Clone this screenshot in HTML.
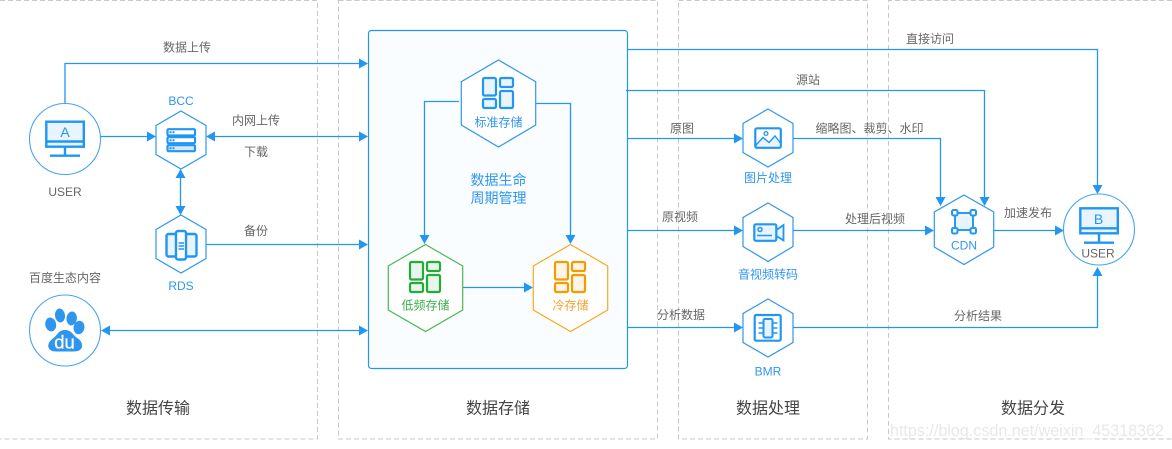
<!DOCTYPE html>
<html><head><meta charset="utf-8">
<style>
html,body{margin:0;padding:0;background:#fff;width:1172px;height:449px;overflow:hidden}
svg{display:block}
text{font-family:"Liberation Sans","Noto Sans CJK SC",sans-serif;text-anchor:middle}
.g{font-size:12px;fill:#666}
.b{font-size:12px;fill:#2f96f0}
.t{font-size:16px;fill:#444}
.d{fill:none;stroke:#c8c8c8;stroke-width:1;stroke-dasharray:5 3}
.l{fill:none;stroke:#2196f3;stroke-width:1.3}
.h{fill:#fff;stroke:#2f96f0;stroke-width:1.2}
.a{fill:#2196f3}
.i{fill:#e8f4ff;stroke:#2196f3;stroke-width:2}
</style></head><body>
<svg width="1172" height="449" viewBox="0 0 1172 449" xmlns="http://www.w3.org/2000/svg">
<rect width="1172" height="449" fill="#fff"/>
<path class="d" d="M0 .5H317.5V439H0"/>
<rect class="d" x="338.5" y=".5" width="319" height="438.5"/>
<rect class="d" x="678.5" y=".5" width="189" height="438.5"/>
<path class="d" d="M1172 .5H888.5V439H1172"/>

<rect x="368.5" y="30.5" width="259" height="338" rx="3" fill="#f9fdff" stroke="#2196f3" stroke-width="1.2"/>

<!-- connectors -->
<path class="l" d="M65 103V63.5H360"/><polygon class="a" points="368,63.5 359,58.5 359,68.5"/>
<path class="l" d="M100 136.500H148"/><polygon class="a" points="156,136.500 147,131.500 147,141.500"/>
<path class="l" d="M212 136.500H360"/><polygon class="a" points="206,136.500 215,131.500 215,141.500"/><polygon class="a" points="368,136.500 359,131.500 359,141.500"/>
<path class="l" d="M180.500 176V208"/><polygon class="a" points="180.500,169 175.500,178 185.500,178"/><polygon class="a" points="180.500,215 175.500,206 185.500,206"/>
<path class="l" d="M206 244.500H360"/><polygon class="a" points="368,244.500 359,239.500 359,249.500"/>
<path class="l" d="M106 330.500H360"/><polygon class="a" points="101,330.500 110,325.500 110,335.500"/><polygon class="a" points="368,330.500 359,325.500 359,335.500"/>

<path class="l" d="M459 101.500H424.500V236"/><polygon class="a" points="424.500,244 419.500,235 429.500,235"/>
<path class="l" d="M536 103.500H570.500V236"/><polygon class="a" points="570.500,244 565.500,235 575.500,235"/>
<path class="l" d="M463 287.500H525"/><polygon class="a" points="533,287.500 524,282.500 524,292.500"/>

<path class="l" d="M628 49.500H1097.500V186"/><polygon class="a" points="1097.500,194 1092.500,185 1102.500,185"/>
<path class="l" d="M626 90.500H984.500V198"/><polygon class="a" points="984.500,206 979.500,197 989.500,197"/>
<path class="l" d="M628 138.500H736"/><polygon class="a" points="743,138.500 734,133.500 734,143.500"/>
<path class="l" d="M793 138.500H940.500V198"/><polygon class="a" points="940.500,206 935.500,197 945.500,197"/>
<path class="l" d="M628 230.500H736"/><polygon class="a" points="743,230.500 734,225.500 734,235.500"/>
<path class="l" d="M793 230.500H926"/><polygon class="a" points="934,230.500 925,225.500 925,235.500"/>
<path class="l" d="M994 230.500H1056"/><polygon class="a" points="1064,230.500 1055,225.500 1055,235.500"/>
<path class="l" d="M628 327.500H736"/><polygon class="a" points="743,327.500 734,322.500 734,332.500"/>
<path class="l" d="M793 327.500H1097.500V275"/><polygon class="a" points="1097.500,267 1092.500,276 1102.500,276"/>

<!-- circles -->
<circle cx="65" cy="139" r="35.500" fill="#fff" stroke="#45a3f5" stroke-width="1.100"/>
<circle cx="65" cy="330.500" r="35.500" fill="#fff" stroke="#45a3f5" stroke-width="1.100"/>
<circle cx="1099" cy="229.500" r="35.500" fill="#fff" stroke="#45a3f5" stroke-width="1.100"/>

<!-- monitor A -->
<rect x="46.300" y="121.700" width="37.500" height="25" fill="#e8f4ff" stroke="#2196f3" stroke-width="2.400"/>
<path d="M46 141.500H84M65 147V155.700M50 155.700H80" fill="none" stroke="#2196f3" stroke-width="2.400"/>
<text x="65" y="137" style="font-size:14px;fill:#2196f3">A</text>
<!-- monitor B -->
<rect x="1080.300" y="208.300" width="37.500" height="25" fill="#e8f4ff" stroke="#2196f3" stroke-width="2.400"/>
<path d="M1080 228.300H1118M1099 233.500V242.700M1084 242.700H1114" fill="none" stroke="#2196f3" stroke-width="2.400"/>
<text x="1098.500" y="224" style="font-size:14px;fill:#2196f3">B</text>

<!-- paw -->
<g fill="#2f96f0">
<ellipse cx="50.700" cy="324.500" rx="5.400" ry="7" transform="rotate(-12 50.700 324.500)"/>
<ellipse cx="60" cy="315.500" rx="5" ry="7" transform="rotate(-6 60 315.500)"/>
<ellipse cx="71.700" cy="318.500" rx="5.200" ry="7" transform="rotate(6 71.700 318.500)"/>
<ellipse cx="79" cy="327.500" rx="5.400" ry="6.800" transform="rotate(12 79 327.500)"/>
<path d="M65 330C71.500 330 73 335 76.500 337.500C80.500 340 82.500 343 82 346.500C81.500 350 78 351.500 74 351.500H56C52 351.500 48.800 350 48.300 346.500C48 343 50.500 340 54 337.500C57.500 335 58.500 330 65 330Z"/>
</g>
<text x="64.500" y="348.500" style="font-size:18.500px;font-weight:normal;fill:#fff;stroke:#fff;stroke-width:.3">du</text>

<!-- hexagons -->
<polygon class="h" points="181,111 206,125.500 206,154.500 181,169 156,154.500 156,125.500"/>
<polygon class="h" points="181,215 206,229.500 206,258.500 181,273 156,258.500 156,229.500"/>
<polygon class="h" points="498.500,60 535.700,81.700 535.700,125 498.500,147 461.300,125 461.300,81.700"/>
<polygon points="425.500,244.500 462.700,266 462.700,310 425.500,331.500 388.300,310 388.300,266" fill="#fff" stroke="#4cb84f" stroke-width="1.200"/>
<polygon points="570.500,244.500 607.700,266 607.700,310 570.500,331.500 533.300,310 533.300,266" fill="#fff" stroke="#f9a825" stroke-width="1.200"/>
<polygon class="h" points="768,109 793,123.500 793,152.500 768,167 743,152.500 743,123.500"/>
<polygon class="h" points="768,203 793,217.500 793,246.500 768,261.500 743,246.500 743,217.500"/>
<polygon class="h" points="768,299 793,313.500 793,342.500 768,357 743,342.500 743,313.500"/>
<polygon class="h" points="964,195 993.700,212 993.700,247 964,264.500 934.300,247 934.300,212"/>

<!-- BCC icon -->
<rect x="167.500" y="129.200" width="27.500" height="6.300" rx="1" fill="#fff" stroke="#2196f3" stroke-width="2.200"/>
<rect x="167.500" y="137.200" width="27.500" height="6" rx="1" fill="#fff" stroke="#2196f3" stroke-width="2.200"/>
<rect x="167.500" y="145.200" width="27.500" height="6" rx="1" fill="#d4e9fb" stroke="#2196f3" stroke-width="2.200"/>
<path d="M190 143.500V145.500" stroke="#2196f3" stroke-width="2"/>
<path d="M169.500 132.300h2M172.500 132.300h2M169.500 140.200h2M172.500 140.200h2M169.500 148.200h2M172.500 148.200h2" stroke="#2196f3" stroke-width="2"/>

<!-- RDS icon -->
<rect x="166.500" y="234" width="30" height="22.500" rx="2" fill="#e8f4ff" stroke="#2196f3" stroke-width="2.400"/>
<rect x="176" y="231" width="10" height="28.500" rx="2" fill="#fff" stroke="#2196f3" stroke-width="2.400"/>
<path d="M178.500 243h5.500M178.500 246h5.500M178.500 249h5.500" stroke="#2196f3" stroke-width="1.400"/>

<!-- storage icons -->
<g fill="#e8f4ff" stroke="#2196f3" stroke-width="2.200">
<rect x="483" y="78" width="13" height="17.500" rx="1.500"/>
<rect x="483" y="99" width="13" height="9" rx="1.500"/>
<rect x="500" y="78" width="13" height="9" rx="1.500"/>
<rect x="500" y="91" width="13" height="17" rx="1.500"/>
</g>
<g fill="#e7f5ea" stroke="#22ac38" stroke-width="2.200">
<rect x="410" y="262" width="13" height="17.500" rx="1.500"/>
<rect x="410" y="283" width="13" height="9" rx="1.500"/>
<rect x="427" y="262" width="13" height="9" rx="1.500"/>
<rect x="427" y="275" width="13" height="17" rx="1.500"/>
</g>
<g fill="#fff5e6" stroke="#f59a00" stroke-width="2.200">
<rect x="555" y="262" width="13" height="17.500" rx="1.500"/>
<rect x="555" y="283" width="13" height="9" rx="1.500"/>
<rect x="572" y="262" width="13" height="9" rx="1.500"/>
<rect x="572" y="275" width="13" height="17" rx="1.500"/>
</g>

<!-- image icon -->
<rect x="755.300" y="128.300" width="25.500" height="19.500" rx="1.500" fill="#fff" stroke="#2196f3" stroke-width="2.200"/>
<path d="M756 145L763 137.500L769 142.500L775 136L780.500 143V147.500H756Z" fill="#e8f4ff" stroke="#2196f3" stroke-width="1.400"/>
<circle cx="766" cy="133.500" r="1.900" fill="none" stroke="#2196f3" stroke-width="1.300"/>

<!-- video icon -->
<rect x="754.300" y="224.300" width="22" height="16.500" rx="1.500" fill="#e8f4ff" stroke="#2196f3" stroke-width="2.200"/>
<path d="M776.500 230L783.500 225V240.500L776.500 236Z" fill="#e8f4ff" stroke="#2196f3" stroke-width="1.800"/>
<circle cx="760" cy="229.500" r="2" fill="#fff" stroke="#2196f3" stroke-width="1.500"/>
<path d="M757 235.500H772" stroke="#2196f3" stroke-width="1.500"/>

<!-- BMR icon -->
<rect x="754.700" y="315" width="26" height="25.700" rx="1.500" fill="#fff" stroke="#2196f3" stroke-width="2.200"/>
<rect x="763.500" y="319" width="9" height="18.500" rx="1.500" class="i"/>
<path d="M758.500 323h5M758.500 328h5M758.500 333h5M772.500 323h5M772.500 328h5M772.500 333h5" stroke="#2196f3" stroke-width="1.500"/>

<!-- CDN icon -->
<rect x="955" y="213" width="18" height="17" fill="#e8f4ff" stroke="#2196f3" stroke-width="1.900"/>
<g fill="#fff" stroke="#2196f3" stroke-width="2">
<rect x="952" y="210" width="5.500" height="5.500" rx="1.500"/>
<rect x="970.500" y="210" width="5.500" height="5.500" rx="1.500"/>
<rect x="952" y="228" width="5.500" height="5.500" rx="1.500"/>
<rect x="970.500" y="228" width="5.500" height="5.500" rx="1.500"/>
</g>

<!-- labels -->
<text class="g" x="187" y="51.500">数据上传</text>
<text class="g" x="65" y="196">USER</text>
<text class="b" x="181" y="105">BCC</text>
<text class="g" x="256" y="124.500">内网上传</text>
<text class="g" x="256" y="156">下载</text>
<text class="g" x="256" y="235">备份</text>
<text class="b" x="181" y="290">RDS</text>
<text class="g" x="65" y="282">百度生态内容</text>
<text class="t" x="158" y="413.500">数据传输</text>
<text class="t" x="498" y="413.500">数据存储</text>
<text class="t" x="768" y="413.500">数据处理</text>
<text class="t" x="1033" y="413.500">数据分发</text>
<text class="b" x="498.500" y="126.500">标准存储</text>
<text x="498.500" y="185" style="font-size:14px;fill:#2f96f0">数据生命</text>
<text x="498.500" y="203" style="font-size:14px;fill:#2f96f0">周期管理</text>
<text x="425.500" y="309.500" style="font-size:12px;fill:#3cb04a">低频存储</text>
<text x="570.500" y="309.500" style="font-size:12px;fill:#f7a32c">冷存储</text>
<text class="g" x="682" y="132.500">原图</text>
<text class="g" x="680" y="221">原视频</text>
<text class="g" x="681" y="319">分析数据</text>
<text class="b" x="768" y="182">图片处理</text>
<text class="b" x="768" y="278.500">音视频转码</text>
<text class="b" x="768" y="375.500">BMR</text>
<text class="g" x="869.500" y="132.500">缩略图、裁剪、水印</text>
<text class="g" x="875" y="223">处理后视频</text>
<text class="g" x="978" y="320">分析结果</text>
<text class="g" x="1028" y="217">加速发布</text>
<text class="g" x="808" y="84">源站</text>
<text class="g" x="930" y="43">直接访问</text>
<text class="b" x="964" y="249.500">CDN</text>
<text class="g" x="1098" y="257.500">USER</text>
<text x="1027" y="436" textLength="274" lengthAdjust="spacingAndGlyphs" style="font-size:17px;fill:#e8e8e8">https://blog.csdn.net/weixin_45318362</text>
</svg>
</body></html>
